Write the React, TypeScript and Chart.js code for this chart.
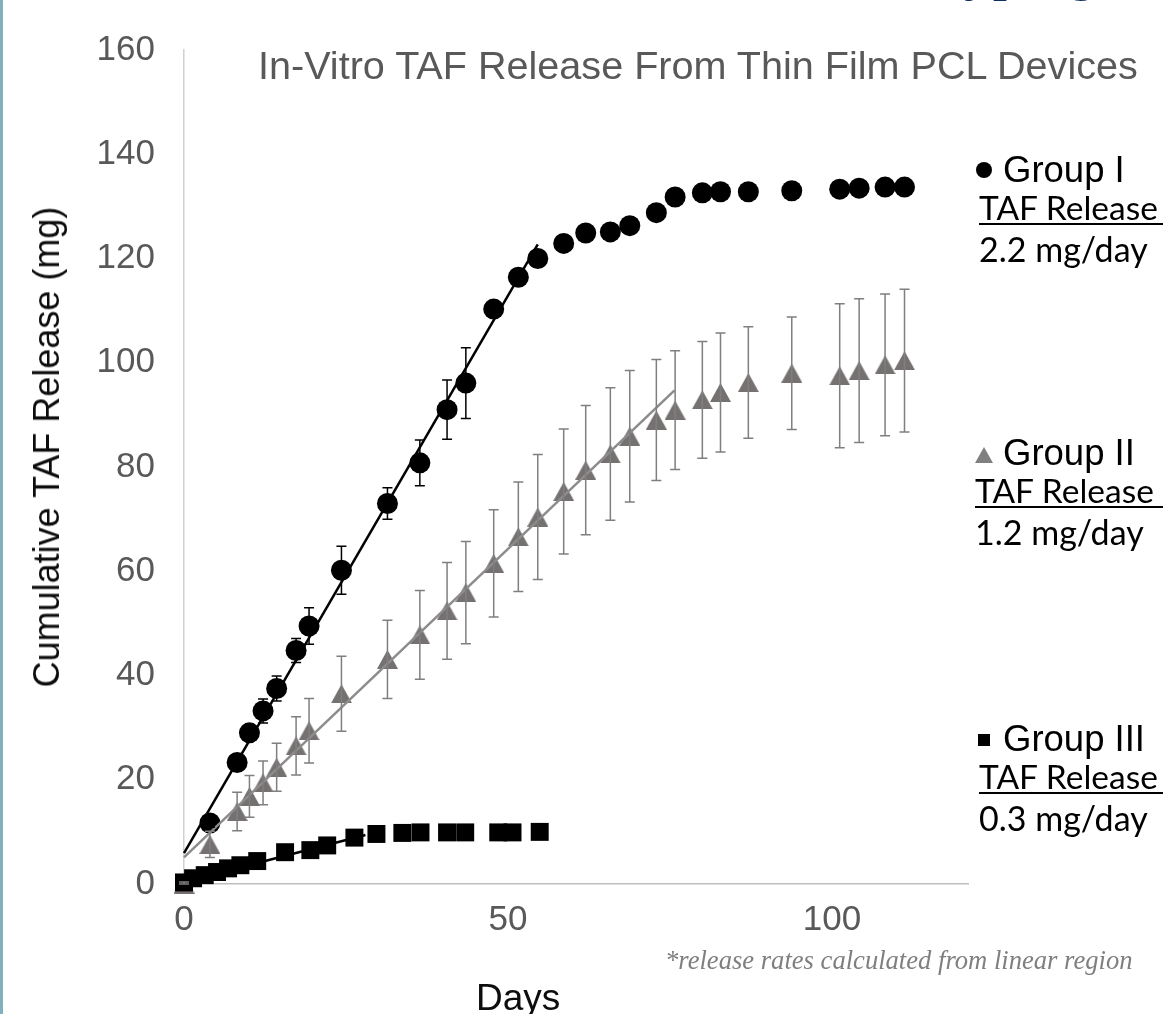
import React, { useEffect, useRef } from "react";
import { Chart, registerables } from "chart.js";

Chart.register(...registerables);

// ---------- data ----------
const X_TICKS = [0, 50, 100];
const Y_TICKS = [0, 20, 40, 60, 80, 100, 120, 140, 160];

const DAYS_I = [4.0, 8.2, 10.1, 12.2, 14.3, 17.3, 19.3, 24.3, 31.4, 36.4, 40.6, 43.5, 47.8, 51.6, 54.6, 58.6, 62.0, 65.8, 68.8, 72.9, 75.8, 80.0, 82.8, 87.1, 93.8, 101.2, 104.2, 108.2, 111.2];
const GROUP_I = [11.7, 23.3, 29.0, 33.2, 37.5, 44.8, 49.5, 60.2, 73.0, 80.8, 91.0, 96.1, 110.3, 116.4, 120.0, 122.9, 124.9, 125.1, 126.3, 128.8, 131.8, 132.6, 132.8, 132.8, 133.0, 133.3, 133.5, 133.7, 133.7];
const ERR_I = [0.8, 1.0, 1.2, 2.3, 2.4, 2.3, 3.5, 4.6, 3.0, 4.4, 5.7, 6.8, 1.5, 1.5, 1.5, 1, 1, 1, 1, 1, 1, 1, 1, 1, 1, 1, 1, 1, 1];

const DAYS_II = [0, 4.0, 8.2, 10.1, 12.2, 14.3, 17.3, 19.3, 24.3, 31.4, 36.4, 40.6, 43.5, 47.8, 51.6, 54.6, 58.6, 62.0, 65.8, 68.8, 72.9, 75.8, 80.0, 82.8, 87.1, 93.8, 101.2, 104.2, 108.2, 111.2];
const GROUP_II = [0, 7.6, 13.9, 16.8, 19.4, 22.4, 26.5, 29.4, 36.5, 43.1, 47.8, 52.4, 55.9, 61.5, 66.6, 70.4, 75.3, 79.4, 82.5, 85.9, 89.0, 90.9, 92.9, 94.3, 96.2, 98.0, 97.5, 98.5, 99.6, 100.4];
const ERR_II = [0.4, 2.5, 3.7, 4.0, 4.2, 4.6, 5.6, 6.2, 7.2, 7.5, 8.5, 9.3, 9.8, 10.3, 10.5, 12.0, 12.0, 12.4, 12.7, 12.6, 11.6, 11.4, 11.2, 11.4, 10.7, 10.8, 13.8, 13.8, 13.6, 13.7];

const DAYS_III = [0, 1.4, 3.2, 5.1, 6.8, 8.7, 11.3, 15.6, 19.5, 22.1, 26.3, 29.7, 33.7, 36.5, 40.6, 43.4, 48.5, 50.7, 54.9];
const GROUP_III = [0.3, 1.1, 1.7, 2.3, 3.0, 3.6, 4.4, 6.1, 6.5, 7.4, 8.9, 9.6, 9.8, 9.9, 9.9, 9.9, 9.9, 9.9, 10.0];

// linear-region trendlines (start/end day, start/end value)
const TREND_I_X = [0, 54.6];
const TREND_I_Y = [5.9, 122.7];
const TREND_II_X = [0, 75.7];
const TREND_II_Y = [5.1, 94.7];
const TREND_III_X = [0, 28];
const TREND_III_Y = [0.4, 9.4];

const GROUP_NAMES = ["Group I", "Group II", "Group III"];
const RATES = ["2.2 mg/day", "1.2 mg/day", "0.3 mg/day"];

const TITLE = "In-Vitro TAF Release From Thin Film PCL Devices";
const Y_TITLE = "Cumulative TAF Release (mg)";
const X_TITLE = "Days";
const FOOTNOTE = "*release rates calculated from linear region";
const SLIDE_TITLE = "Prototyping";

// ---------- helpers ----------
const pts = (xs: number[], ys: number[]) => xs.map((x, i) => ({ x, y: ys[i] }));

function triangleImage(w: number, h: number, color: string) {
  const c = document.createElement("canvas");
  c.width = w;
  c.height = h;
  const g = c.getContext("2d")!;
  g.fillStyle = color;
  g.beginPath();
  g.moveTo(w / 2, 0);
  g.lineTo(w, h);
  g.lineTo(0, h);
  g.closePath();
  g.fill();
  return c;
}

const errorBarPlugin = {
  id: "errorBars",
  afterDatasetsDraw(chart: any) {
    const { ctx } = chart;
    const xs = chart.scales.x;
    const ys = chart.scales.y;
    chart.data.datasets.forEach((ds: any) => {
      if (!ds.errors) return;
      ctx.save();
      ctx.strokeStyle = ds.errorColor;
      ctx.lineWidth = 1.5;
      ds.data.forEach((p: any, i: number) => {
        const e = ds.errors[i];
        const px = xs.getPixelForValue(p.x);
        const top = ys.getPixelForValue(p.y + e);
        const bot = ys.getPixelForValue(Math.max(0, p.y - e));
        ctx.beginPath();
        ctx.moveTo(px, top);
        ctx.lineTo(px, bot);
        ctx.moveTo(px - 5, top);
        ctx.lineTo(px + 5, top);
        ctx.moveTo(px - 5, bot);
        ctx.lineTo(px + 5, bot);
        ctx.stroke();
      });
      ctx.restore();
    });
  },
};

const SANS = "'Liberation Sans', Arial, sans-serif";
const CAL = "Lato, 'Open Sans', sans-serif";
const SERIF = "'Liberation Serif', 'Times New Roman', serif";

// place text by baseline (line-height 1)
function T(props: {
  x: number;
  base: number;
  size: number;
  font: string;
  ratio: number;
  color?: string;
  style?: React.CSSProperties;
  children: React.ReactNode;
}) {
  const { x, base, size, font, ratio, color, style, children } = props;
  return (
    <div
      style={{
        position: "absolute",
        left: x,
        top: base - ratio * size,
        fontFamily: font,
        fontSize: size,
        lineHeight: 1,
        whiteSpace: "nowrap",
        color: color || "#000",
        ...style,
      }}
    >
      {children}
    </div>
  );
}

export default function App() {
  const ref = useRef<HTMLCanvasElement | null>(null);

  useEffect(() => {
    const tri = triangleImage(21, 19, "#767171");
    const chart = new Chart(ref.current!, {
      type: "scatter",
      data: {
        datasets: [
          {
            label: "trend I",
            data: pts(TREND_I_X, TREND_I_Y),
            showLine: true,
            borderColor: "#000000",
            borderWidth: 2.5,
            pointRadius: 0,
            clip: false,
          } as any,
          {
            label: "trend II",
            data: pts(TREND_II_X, TREND_II_Y),
            showLine: true,
            borderColor: "#8c8c8c",
            borderWidth: 2.5,
            pointRadius: 0,
            clip: false,
          },
          {
            label: "trend III",
            data: pts(TREND_III_X, TREND_III_Y),
            showLine: true,
            borderColor: "#000000",
            borderWidth: 2.5,
            pointRadius: 0,
            clip: false,
          },
          {
            label: GROUP_NAMES[2],
            data: pts(DAYS_III, GROUP_III),
            pointStyle: "rect",
            pointRadius: 12.7,
            backgroundColor: "#000000",
            borderWidth: 0,
            clip: false,
          },
          {
            label: GROUP_NAMES[1],
            data: pts(DAYS_II, GROUP_II),
            pointStyle: tri,
            pointRadius: 10,
            backgroundColor: "#767171",
            borderWidth: 0,
            clip: false,
            errors: ERR_II,
            errorColor: "#7f7f7f",
          } as any,
          {
            label: GROUP_NAMES[0],
            data: pts(DAYS_I, GROUP_I),
            pointStyle: "circle",
            pointRadius: 10.5,
            backgroundColor: "#000000",
            borderWidth: 0,
            clip: false,
            errors: ERR_I,
            errorColor: "#000000",
          } as any,
        ],
      },
      options: {
        animation: false,
        responsive: false,
        devicePixelRatio: 1,
        layout: { padding: { left: 0, right: 195, top: 45, bottom: 0 } },
        plugins: { legend: { display: false }, tooltip: { enabled: false }, title: { display: false } },
        scales: {
          x: {
            type: "linear",
            min: 0,
            max: 121,
            afterBuildTicks: (s: any) => {
              s.ticks = X_TICKS.map((v) => ({ value: v }));
            },
            afterFit: (s: any) => {
              s.height = 130;
            },
            grid: { display: false, drawTicks: false },
            border: { display: true, color: "#bfbfbf", width: 1.5 },
            ticks: {
              padding: 15,
              color: "#595959",
              font: { family: SANS, size: 35 },
            },
          },
          y: {
            type: "linear",
            min: 0,
            max: 160,
            afterBuildTicks: (s: any) => {
              s.ticks = Y_TICKS.map((v) => ({ value: v }));
            },
            afterFit: (s: any) => {
              s.width = 184;
            },
            grid: { display: false, drawTicks: false },
            border: { display: true, color: "#d0d0d0", width: 1.5 },
            ticks: {
              padding: 29,
              color: "#595959",
              font: { family: SANS, size: 35 },
            },
          },
        },
      },
      plugins: [errorBarPlugin],
    } as any);
    return () => chart.destroy();
  }, []);

  const legendTop = [183, 466, 752];
  return (
    <div
      style={{
        position: "fixed",
        left: 0,
        top: 0,
        width: 1163,
        height: 1014,
        overflow: "hidden",
        background: "#ffffff",
      }}
    >
      <canvas ref={ref} width={1163} height={1014} style={{ position: "absolute", left: 0, top: 0, width: 1163, height: 1014 }} />
      <div style={{ position: "absolute", left: 0, top: 0, width: 3, height: 1014, background: "#80b1bd" }} />
      <T x={822} base={-10} size={58} font={SERIF} ratio={0.8375} color="#0f2e5e">
        {SLIDE_TITLE}
      </T>
      <T x={258} base={80} size={39.6} font={SANS} ratio={0.8465} color="#595959">
        {TITLE}
      </T>
      <div
        style={{
          position: "absolute",
          left: 47,
          top: 447,
          transform: "translate(-50%, -50%) rotate(-90deg)",
          fontFamily: SANS,
          fontSize: 36,
          lineHeight: 1,
          whiteSpace: "nowrap",
          color: "#0d0d0d",
        }}
      >
        {Y_TITLE}
      </div>
      <T x={476} base={1010} size={37} font={SANS} ratio={0.8465} color="#0d0d0d">
        {X_TITLE}
      </T>
      <T x={665} base={969} size={26.6} font={SERIF} ratio={0.8375} color="#7f7f7f" style={{ fontStyle: "italic" }}>
        {FOOTNOTE}
      </T>

      {/* legend markers */}
      <div style={{ position: "absolute", left: 976, top: 162, width: 16, height: 16, borderRadius: 8, background: "#000" }} />
      <div
        style={{
          position: "absolute",
          left: 975,
          top: 447,
          width: 0,
          height: 0,
          borderLeft: "9px solid transparent",
          borderRight: "9px solid transparent",
          borderBottom: "16px solid #808080",
        }}
      />
      <div style={{ position: "absolute", left: 978, top: 734, width: 12, height: 12, background: "#000" }} />

      {GROUP_NAMES.map((g, i) => (
        <React.Fragment key={g}>
          <T x={1003} base={legendTop[i]} size={36.5} font={SANS} ratio={0.8465}>
            {g}
          </T>
          <T
            x={i === 1 ? 975 : 979}
            base={legendTop[i] + 38}
            size={33.5}
            font={CAL}
            ratio={0.887}
            style={{ textDecoration: "underline", textDecorationThickness: 2, textUnderlineOffset: 3 }}
          >
            {"TAF Release Rate*"}
          </T>
          <T x={i === 1 ? 975 : 979} base={legendTop[i] + 79} size={34} font={CAL} ratio={0.887}>
            {RATES[i]}
          </T>
        </React.Fragment>
      ))}
    </div>
  );
}
